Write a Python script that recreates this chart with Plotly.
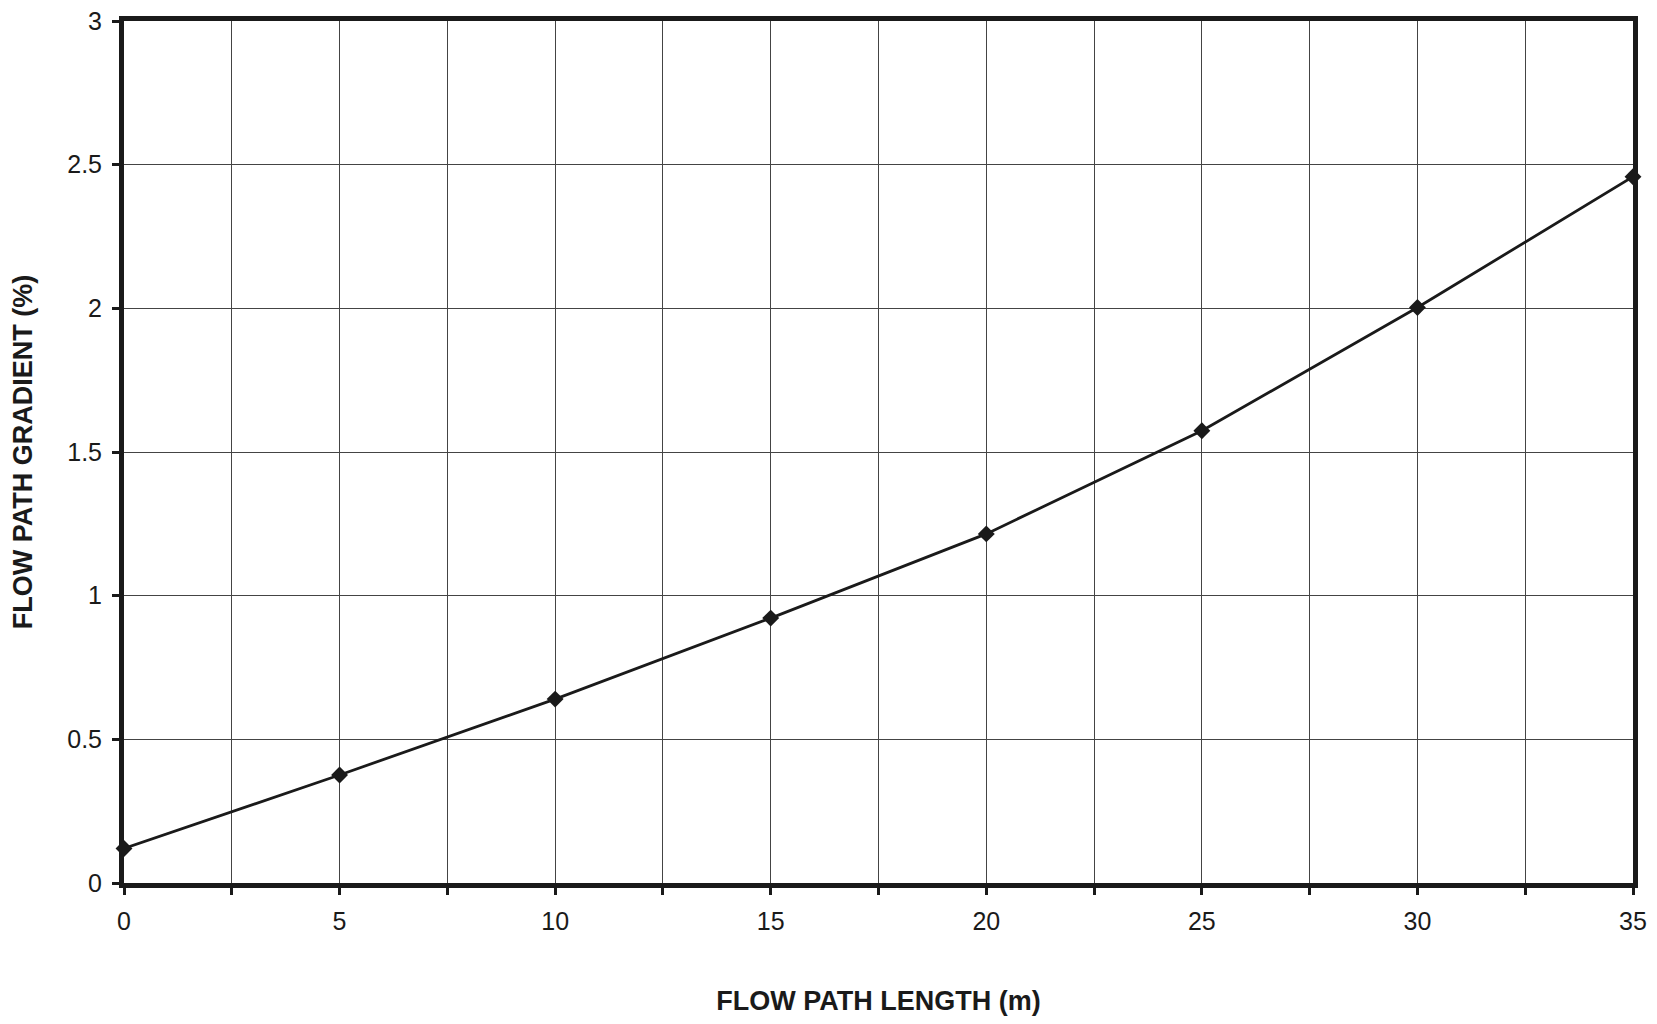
import plotly.graph_objects as go

length_m = [0, 5, 10, 15, 20, 25, 30, 35]
gradient_pct = [0.12, 0.376, 0.64, 0.922, 1.215, 1.574, 2.003, 2.458]

x_ticks = [0, 5, 10, 15, 20, 25, 30, 35]
y_ticks = [0, 0.5, 1, 1.5, 2, 2.5, 3]
y_labels = ["0", "0.5", "1", "1.5", "2", "2.5", "3"]

fig = go.Figure()
fig.add_trace(go.Scatter(
    x=length_m, y=gradient_pct, mode="lines+markers",
    line=dict(color="#1a1a1a", width=2.8),
    marker=dict(symbol="diamond", size=13, color="#1a1a1a"),
    cliponaxis=False, showlegend=False,
))

font_family = "Liberation Sans, Arial, sans-serif"
fig.update_layout(
    width=1641, height=1008,
    margin=dict(l=116, r=16, t=13, b=133),
    paper_bgcolor="white", plot_bgcolor="white",
    font=dict(family=font_family, color="#1a1a1a", size=25),
    xaxis=dict(
        range=[0, 35], tickvals=x_ticks, ticktext=[str(v) for v in x_ticks],
        tickfont=dict(size=25), ticklabelstandoff=5, ticklabeloverflow="allow",
        showgrid=True, gridcolor="#444444", gridwidth=1,
        showline=True, linecolor="#1a1a1a", linewidth=5, mirror=True,
        ticks="outside", ticklen=7, tickwidth=3, tickcolor="#1a1a1a",
        minor=dict(dtick=2.5, tick0=0, showgrid=True, gridcolor="#444444", gridwidth=1,
                   ticks="outside", ticklen=7, tickwidth=3, tickcolor="#1a1a1a"),
        zeroline=False,
        title=dict(text="<b>FLOW PATH LENGTH (m)</b>", font=dict(size=27), standoff=60),
        automargin=False,
    ),
    yaxis=dict(
        range=[0, 3], tickvals=y_ticks, ticktext=y_labels,
        tickfont=dict(size=25), ticklabelstandoff=5, ticklabeloverflow="allow",
        showgrid=True, gridcolor="#444444", gridwidth=1,
        showline=True, linecolor="#1a1a1a", linewidth=5, mirror=True,
        ticks="outside", ticklen=7, tickwidth=3, tickcolor="#1a1a1a",
        zeroline=False,
        title=dict(text="<b>FLOW PATH GRADIENT (%)</b>", font=dict(size=27), standoff=30),
        automargin=False,
    ),
)

fig.write_html("out.html")
